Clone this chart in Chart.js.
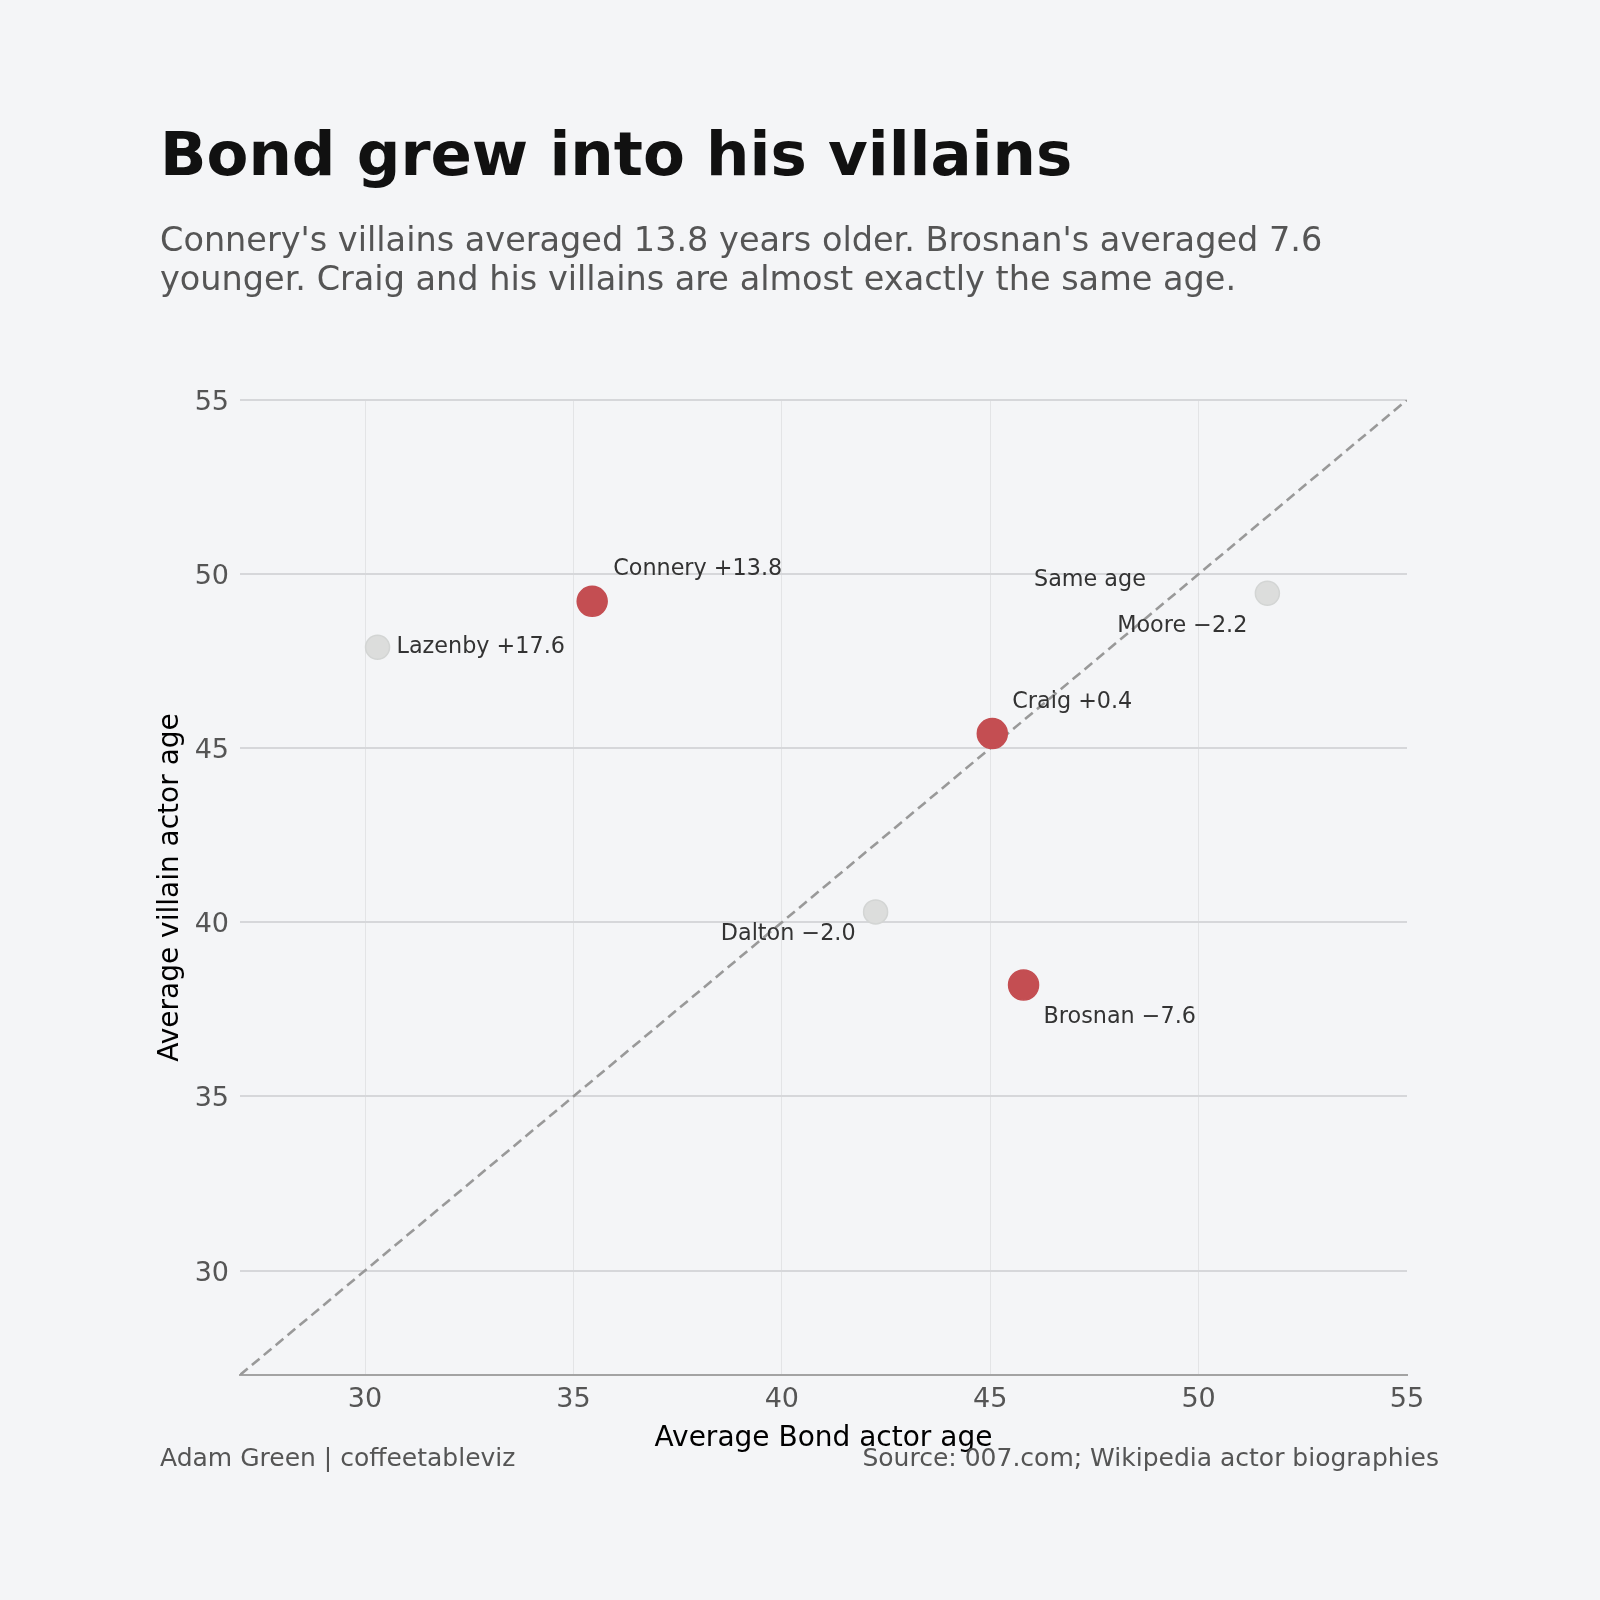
<!DOCTYPE html>
<html>
<head>
    <meta charset="UTF-8">
    <title>Bond grew into his villains</title>
    <script src="https://cdn.jsdelivr.net/npm/chart.js@4.4.1/dist/chart.umd.min.js"></script>
    <style>
        body {
            margin: 0;
            background: #f4f5f7;
            font-family: "DejaVu Sans", sans-serif;
        }
        .page {
            position: relative;
            width: 1600px;
            height: 1600px;
        }
        canvas {
            position: absolute;
            left: 0;
            top: 0;
        }
        .title {
            position: absolute;
            left: 160px;
            top: 123px;
            font-size: 61px;
            line-height: 61px;
            font-weight: bold;
            color: #111;
            white-space: nowrap;
        }
        .subtitle {
            position: absolute;
            left: 160px;
            top: 220px;
            font-size: 33.5px;
            line-height: 39px;
            color: #555;
            white-space: nowrap;
        }
        .footer {
            position: absolute;
            top: 1445px;
            font-size: 25px;
            line-height: 25px;
            color: #555;
            white-space: nowrap;
        }
        .credit { left: 160px; }
        .source { right: 161px; }
    </style>
</head>
<body>
<div class="page">
    <canvas id="chart" width="1600" height="1600"></canvas>
    <div class="title">Bond grew into his villains</div>
    <div class="subtitle">Connery's villains averaged 13.8 years older. Brosnan's averaged 7.6<br>younger. Craig and his villains are almost exactly the same age.</div>
    <div class="footer credit">Adam Green | coffeetableviz</div>
    <div class="footer source">Source: 007.com; Wikipedia actor biographies</div>
</div>

<script>
    // data
    const actors = ['Lazenby', 'Connery', 'Moore', 'Craig', 'Dalton', 'Brosnan'];
    const bondAge = [30.3, 35.45, 51.65, 45.05, 42.25, 45.8];
    const villainAge = [47.9, 49.22, 49.45, 45.42, 40.3, 38.2];
    const ageGap = ['+17.6', '+13.8', '\u22122.2', '+0.4', '\u22122.0', '\u22127.6'];
    const highlighted = ['Connery', 'Craig', 'Brosnan'];
    const sameAgeLine = [27, 55];
    const xTicks = [30, 35, 40, 45, 50, 55];
    const yTicks = [30, 35, 40, 45, 50, 55];
    const sameAgeNote = { text: 'Same age', x: 46.05, y: 49.65 };

    // label placement in pixels from each point
    const labelPlacement = {
        Lazenby: { dx: 19, dy: 6, align: 'left' },
        Connery: { dx: 21, dy: -26, align: 'left' },
        Moore: { dx: -20, dy: 39, align: 'right' },
        Craig: { dx: 20, dy: -26, align: 'left' },
        Dalton: { dx: -20, dy: 28, align: 'right' },
        Brosnan: { dx: 20, dy: 38, align: 'left' }
    };

    const red = '#c44e52';
    const grey = '#dcdddc';

    Chart.defaults.font.family = '"DejaVu Sans", sans-serif';

    const pointLabels = {
        id: 'pointLabels',
        afterDatasetsDraw(chart) {
            const ctx = chart.ctx;
            const meta = chart.getDatasetMeta(0);
            ctx.save();
            ctx.font = '22.3px "DejaVu Sans"';
            ctx.fillStyle = '#333';
            ctx.textBaseline = 'alphabetic';
            meta.data.forEach((pt, i) => {
                const p = labelPlacement[actors[i]];
                ctx.textAlign = p.align;
                ctx.fillText(actors[i] + ' ' + ageGap[i], pt.x + p.dx, pt.y + p.dy);
            });
            ctx.textAlign = 'left';
            ctx.fillText(sameAgeNote.text,
                chart.scales.x.getPixelForValue(sameAgeNote.x),
                chart.scales.y.getPixelForValue(sameAgeNote.y));
            ctx.restore();
        }
    };

    new Chart(document.getElementById('chart'), {
        type: 'scatter',
        data: {
            datasets: [{
                label: 'Actors',
                data: actors.map((n, i) => ({ x: bondAge[i], y: villainAge[i] })),
                backgroundColor: actors.map(n => highlighted.includes(n) ? red : grey),
                borderColor: actors.map(n => highlighted.includes(n) ? red : '#d3d5d4'),
                borderWidth: 1.5,
                pointRadius: actors.map(n => highlighted.includes(n) ? 15 : 12),
                order: 1
            }, {
                type: 'line',
                label: 'Same age',
                data: sameAgeLine.map(v => ({ x: v, y: v })),
                borderColor: '#999',
                borderWidth: 2.6,
                borderDash: [10, 5.5],
                pointRadius: 0,
                showLine: true,
                fill: false,
                order: 2
            }]
        },
        options: {
            responsive: false,
            devicePixelRatio: 1,
            animation: false,
            layout: {
                padding: { left: 150, top: 400, right: 193, bottom: 140 }
            },
            plugins: {
                legend: { display: false },
                tooltip: { enabled: false }
            },
            scales: {
                x: {
                    type: 'linear',
                    min: 27,
                    max: 55,
                    afterBuildTicks: s => { s.ticks = xTicks.map(v => ({ value: v })); },
                    afterFit: s => { s.height = 85; },
                    grid: {
                        color: c => (c.tick && c.tick.value === 55) ? 'rgba(0,0,0,0)' : '#e3e4e6',
                        lineWidth: 1,
                        drawTicks: false
                    },
                    border: { display: true, color: '#a3a3a3', width: 2 },
                    ticks: { color: '#555', font: { size: 27 }, padding: 9 },
                    title: {
                        display: true,
                        text: 'Average Bond actor age',
                        color: '#000',
                        font: { size: 28 },
                        padding: { top: 4, bottom: 4 }
                    }
                },
                y: {
                    type: 'linear',
                    min: 27,
                    max: 55,
                    afterBuildTicks: s => { s.ticks = yTicks.map(v => ({ value: v })); },
                    afterFit: s => { s.width = 90; },
                    grid: { color: '#d6d7da', lineWidth: 2, drawTicks: false },
                    border: { display: false },
                    ticks: { color: '#555', font: { size: 27 }, padding: 11, labelOffset: 3 },
                    title: {
                        display: true,
                        text: 'Average villain actor age',
                        color: '#000',
                        font: { size: 28 },
                        padding: { top: 4, bottom: 4 }
                    }
                }
            }
        },
        plugins: [pointLabels]
    });
</script>
</body>
</html>
